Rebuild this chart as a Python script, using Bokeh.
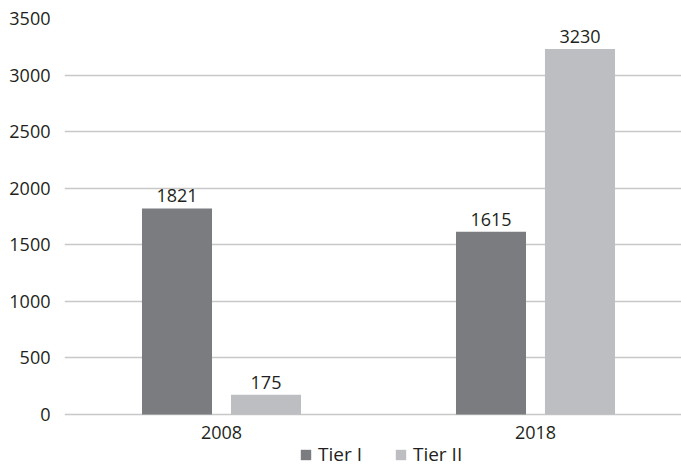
from bokeh.plotting import figure
from bokeh.models import ColumnDataSource, Range1d, FixedTicker, Legend, LegendItem
from bokeh.core.properties import value
from bokeh.transform import dodge
from bokeh.embed import file_html
from bokeh.resources import INLINE

years = ["2008", "2018"]
tier1 = [1821, 1615]
tier2 = [175, 3230]
series_names = ["Tier I", "Tier II"]
y_ticks = [0, 500, 1000, 1500, 2000, 2500, 3000, 3500]

FONT = "Open Sans"
TXT = "#231f20"
C1 = "#7b7c80"
C2 = "#bdbec2"

xs = list(range(len(years)))
src = ColumnDataSource(dict(x=xs, t1=tier1, t2=tier2,
                            l1=[str(v) for v in tier1], l2=[str(v) for v in tier2]))

p = figure(width=681, height=468, output_backend="svg", toolbar_location=None,
           x_range=Range1d(-0.5, 1.465), y_range=Range1d(-477, 3500),
           min_border_left=64, min_border_right=0, min_border_top=18, min_border_bottom=0)
p.outline_line_color = None

off = 0.1417
w = 0.223
r1 = p.vbar(x=dodge("x", -off), top="t1", width=w, source=src, fill_color=C1, line_color=None)
r2 = p.vbar(x=dodge("x", off), top="t2", width=w, source=src, fill_color=C2, line_color=None)

for col, lab, o in (("t1", "l1", -off), ("t2", "l2", off)):
    p.text(x=dodge("x", o), y=col, text=lab, source=src, text_align="center",
           text_baseline="bottom", y_offset=-6, text_font=value(FONT),
           text_font_size="18px", text_color=TXT)

p.xgrid.visible = False
p.ygrid.grid_line_color = "#c8c8c8"
p.ygrid.grid_line_width = 1.5
p.yaxis.ticker = FixedTicker(ticks=y_ticks)
p.xaxis.ticker = FixedTicker(ticks=xs)
p.xaxis.major_label_overrides = {i: y for i, y in enumerate(years)}
p.xaxis.fixed_location = 0

for ax in (p.xaxis, p.yaxis):
    ax.axis_line_color = None
    ax.major_tick_line_color = None
    ax.minor_tick_line_color = None
    ax.major_label_text_font = FONT
    ax.major_label_text_font_size = "18px"
    ax.major_label_text_color = TXT
p.yaxis.major_label_standoff = 8
p.xaxis.major_label_standoff = 5

legend = Legend(items=[LegendItem(label=series_names[0], renderers=[r1]),
                       LegendItem(label=series_names[1], renderers=[r2])],
                orientation="horizontal", location=(235, 1),
                label_text_font=FONT, label_text_font_size="19px", label_text_color=TXT,
                glyph_width=13, glyph_height=13, spacing=32, padding=0, margin=0,
                label_standoff=6, border_line_color=None, background_fill_alpha=0)
p.add_layout(legend, "center")

open("out.html", "w").write(file_html(p, INLINE))
